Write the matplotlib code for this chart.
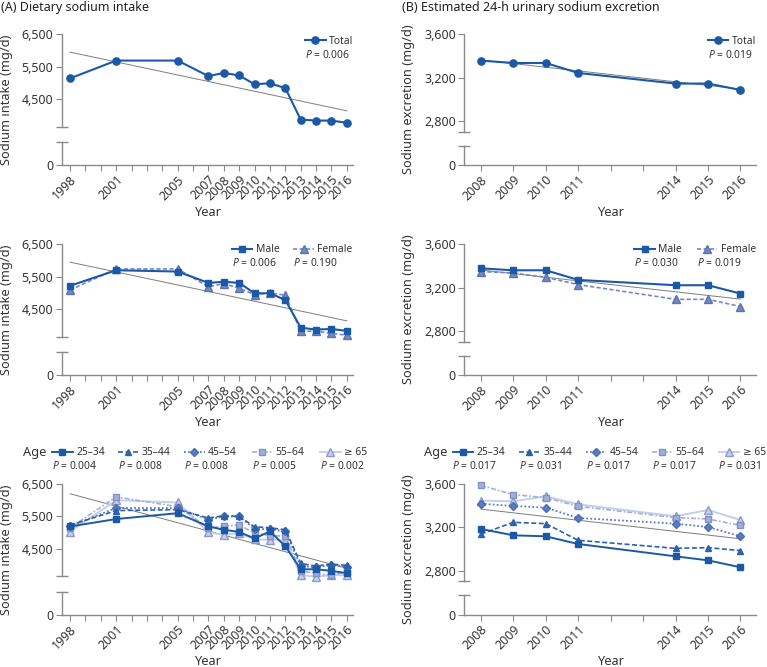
# Sodium intake (KNHANES) and estimated 24-h urinary sodium excretion trends

import matplotlib
matplotlib.use("Agg")
from matplotlib import pyplot as plt
from matplotlib.lines import Line2D
from matplotlib import transforms

plt.rcParams["font.family"] = ["Noto Sans", "DejaVu Sans"]
plt.rcParams["mathtext.fontset"] = "custom"
plt.rcParams["mathtext.it"] = "Noto Sans:italic"
plt.rcParams["mathtext.rm"] = "Noto Sans"

# ---- data ----
years_a = [1998, 2001, 2005, 2007, 2008, 2009, 2010, 2011, 2012, 2013, 2014, 2015, 2016]
years_b = [2008, 2009, 2010, 2011, 2014, 2015, 2016]

intake_total = [5140, 5690, 5690, 5210, 5310, 5230, 4960, 4990, 4840, 3870, 3840, 3840, 3770]
intake_male = [5220, 5700, 5660, 5310, 5345, 5310, 4990, 4990, 4780, 3930, 3870, 3890, 3830]
intake_female = [5090, 5740, 5740, 5190, 5290, 5140, 4950, 5000, 4930, 3820, 3820, 3750, 3700]
intake_25_34 = [5190, 5420, 5600, 5190, 5090, 5020, 4820, 5040, 4580, 3870, 3870, 3820, 3750]
intake_35_44 = [5230, 5680, 5710, 5450, 5520, 5500, 5180, 5150, 5090, 4050, 3970, 4030, 3990]
intake_45_54 = [5200, 5760, 5760, 5400, 5500, 5500, 5110, 5110, 5040, 3970, 3930, 4000, 3950]
intake_55_64 = [5150, 6100, 5800, 5150, 5190, 5240, 4990, 4910, 4890, 3810, 3750, 3680, 3800]
intake_65 = [5030, 6000, 5930, 5010, 4930, 4980, 4790, 4780, 4750, 3690, 3640, 3690, 3690]
intake_trend_total = [5950, 4140]
intake_trend_age = [6200, 3900]

excr_total = [3357, 3335, 3335, 3243, 3145, 3145, 3086]
excr_male = [3378, 3360, 3360, 3271, 3222, 3222, 3145]
excr_female = [3348, 3335, 3295, 3228, 3092, 3092, 3025]
excr_25_34 = [3185, 3126, 3117, 3046, 2932, 2895, 2831]
excr_35_44 = [3138, 3246, 3234, 3080, 3006, 3012, 2985]
excr_45_54 = [3418, 3397, 3382, 3286, 3234, 3203, 3117]
excr_55_64 = [3588, 3502, 3474, 3394, 3289, 3277, 3218]
excr_65 = [3446, 3440, 3486, 3412, 3302, 3360, 3268]
excr_trend_total = [3363, 3094]
excr_trend_age = [3368, 3094]

age_labels = ["25\u201334", "35\u201344", "45\u201354", "55\u201364", "\u2265 65"]
p_intake_total = ["0.006"]
p_intake_sex = ["0.006", "0.190"]
p_intake_age = ["0.004", "0.008", "0.008", "0.005", "0.002"]
p_excr_total = ["0.019"]
p_excr_sex = ["0.030", "0.019"]
p_excr_age = ["0.017", "0.031", "0.017", "0.017", "0.031"]

# ---- styles ----
DARK = "#1b59a7"
STYLE = {
    "total": dict(color=DARK, marker="o", ls="-", lw=1.5, ms=5.2, mec=DARK),
    "male": dict(color=DARK, marker="s", ls="-", lw=1.5, ms=4.6, mec=DARK),
    "female": dict(color="#7388c5", marker="^", ls=(0, (2.5, 1.4)), lw=1.2, ms=5.2, mec="#5e72b0"),
    "25": dict(color=DARK, marker="s", ls="-", lw=1.4, ms=4.4, mec=DARK),
    "35": dict(color="#2c62ad", marker="^", ls=(0, (3, 1.5)), lw=1.2, ms=5.0, mec="#2c62ad"),
    "45": dict(color="#5a7cc0", marker="D", ls=(0, (1, 1.2)), lw=1.3, ms=4.2, mec="#4c6db2"),
    "55": dict(color="#a0b0da", marker="s", ls=(0, (3, 1.2, 1, 1.2)), lw=1.2, ms=5.0, mec="#8292c4"),
    "65": dict(color="#c6cfea", marker="^", ls="-", lw=1.4, ms=5.6, mec="#8d9acb"),
}
age_keys = ["25", "35", "45", "55", "65"]

W, H = 767, 667
fig = plt.figure(figsize=(W / 100, H / 100), dpi=100)

SPINE = "#8a8a8a"
TXT = "#333333"
TICK_FS = 8.9
LABEL_FS = 9.2
LEG_FS = 7.4
PANEL_H = 130.7

# axis settings: (xlim, all years, ylim, y ticks, y labels, break marks)
AX_A = dict(xlim=(1997.46, 2016.4), years=years_a, allyears=range(1998, 2017),
            ylim=(2470, 6500), yt=[2470, 4500, 5500, 6500],
            yl=["0", "4,500", "5,500", "6,500"], brk=(3180, 3650),
            ylabel="Sodium intake (mg/d)")
AX_B = dict(xlim=(2007.49, 2016.48), years=years_b, allyears=range(2008, 2017),
            ylim=(2393, 3600), yt=[2393, 2800, 3200, 3600],
            yl=["0", "2,800", "3,200", "3,600"], brk=(2572, 2700),
            ylabel="Sodium excretion (mg/d)")


def make_axes(left, right, top, cfg):
    ax = fig.add_axes([left / W, 1 - (top + PANEL_H) / H, (right - left) / W, PANEL_H / H])
    ax.set_xlim(*cfg["xlim"])
    ax.set_ylim(*cfg["ylim"])
    for s in ["top", "right"]:
        ax.spines[s].set_visible(False)
    for s in ["left", "bottom"]:
        ax.spines[s].set_color(SPINE)
        ax.spines[s].set_linewidth(1.0)
    ax.spines["left"].set_bounds(cfg["brk"][1], cfg["ylim"][1])
    # lower piece of the broken y axis
    trans = transforms.blended_transform_factory(ax.transAxes, ax.transData)
    ax.plot([0, 0], [cfg["ylim"][0], cfg["brk"][0]], color=SPINE, lw=1.0,
            transform=trans, clip_on=False)
    ax.set_yticks(cfg["yt"])
    ax.set_yticklabels(cfg["yl"])
    ax.set_yticks(list(cfg["brk"]), minor=True)
    ax.tick_params(axis="y", which="major", direction="out", length=4, color=SPINE,
                   labelsize=TICK_FS, labelcolor=TXT, pad=2)
    ax.tick_params(axis="y", which="minor", direction="inout", length=8, color=SPINE, width=1.0)
    xt = list(cfg["allyears"])
    ax.set_xticks(xt)
    ax.set_xticklabels([str(y) if y in cfg["years"] else "" for y in xt])
    ax.tick_params(axis="x", direction="out", length=4, color=SPINE,
                   labelsize=TICK_FS, labelcolor=TXT, pad=2)
    for lab in ax.get_xticklabels():
        lab.set_rotation(45)
        lab.set_ha("right")
        lab.set_va("top")
        lab.set_rotation_mode("anchor")
    ax.set_xlabel("Year", fontsize=LABEL_FS, color=TXT)
    ax.xaxis.set_label_coords(0.5, -0.31)
    ax.set_ylabel(cfg["ylabel"], fontsize=LABEL_FS, color=TXT)
    ax.yaxis.set_label_coords(-0.168, 0.5)
    return ax


def add_entry(x, y, style, label, pval):
    h = Line2D([], [], **style)
    fig.legend(handles=[h], labels=[label], loc="center left",
               bbox_to_anchor=(x / W, 1 - y / H), frameon=False, borderpad=0,
               borderaxespad=0, handlelength=2.0, handletextpad=0.35,
               fontsize=LEG_FS, labelcolor=TXT)
    fig.text(x / W, 1 - (y + 13.5) / H, "$P$ = " + pval, fontsize=LEG_FS,
             color=TXT, va="center", ha="left")


def draw(ax, years, values, style, z):
    ax.plot(years, values, zorder=z, clip_on=False, **style)


def trend(ax, years, vals):
    ax.plot([years[0], years[-1]], vals, color="#7d7d7d", lw=0.7, zorder=2)


COL_A = (61.7, 353.0)
COL_B = (464.3, 756.0)
ROWS = [34.3, 244.3, 484.0]

fig.text(1 / W, 1 - 7.5 / H, "(A) Dietary sodium intake", fontsize=9, color="#222222", va="center")
fig.text(401.5 / W, 1 - 7.5 / H, "(B) Estimated 24-h urinary sodium excretion", fontsize=9,
         color="#222222", va="center")

# ---- row 1: totals ----
ax = make_axes(*COL_A, ROWS[0], AX_A)
trend(ax, years_a, intake_trend_total)
draw(ax, years_a, intake_total, STYLE["total"], 3)
add_entry(305, 41, STYLE["total"], "Total", p_intake_total[0])

ax = make_axes(*COL_B, ROWS[0], AX_B)
trend(ax, years_b, excr_trend_total)
draw(ax, years_b, excr_total, STYLE["total"], 3)
add_entry(707.7, 41, STYLE["total"], "Total", p_excr_total[0])

# ---- row 2: by sex ----
ax = make_axes(*COL_A, ROWS[1], AX_A)
trend(ax, years_a, intake_trend_total)
draw(ax, years_a, intake_female, STYLE["female"], 3)
draw(ax, years_a, intake_male, STYLE["male"], 4)
add_entry(231.7, 250, STYLE["male"], "Male", p_intake_sex[0])
add_entry(293.3, 250, STYLE["female"], "Female", p_intake_sex[1])

ax = make_axes(*COL_B, ROWS[1], AX_B)
trend(ax, years_b, excr_trend_total)
draw(ax, years_b, excr_female, STYLE["female"], 3)
draw(ax, years_b, excr_male, STYLE["male"], 4)
add_entry(634.3, 250, STYLE["male"], "Male", p_excr_sex[0])
add_entry(696.7, 250, STYLE["female"], "Female", p_excr_sex[1])

# ---- row 3: by age ----
intake_age = [intake_25_34, intake_35_44, intake_45_54, intake_55_64, intake_65]
excr_age = [excr_25_34, excr_35_44, excr_45_54, excr_55_64, excr_65]
age_x_a = [52, 117.5, 184, 251.5, 320]
age_x_b = [452.5, 519, 585.5, 651.5, 718.5]

ax = make_axes(*COL_A, ROWS[2], AX_A)
trend(ax, years_a, intake_trend_age)
for i in reversed(range(5)):
    draw(ax, years_a, intake_age[i], STYLE[age_keys[i]], 3 + (5 - i))
fig.text(23 / W, 1 - 452.7 / H, "Age", fontsize=LABEL_FS, color=TXT, va="center")
for i in range(5):
    add_entry(age_x_a[i], 452.7, STYLE[age_keys[i]], age_labels[i], p_intake_age[i])

ax = make_axes(*COL_B, ROWS[2], AX_B)
trend(ax, years_b, excr_trend_age)
for i in reversed(range(5)):
    draw(ax, years_b, excr_age[i], STYLE[age_keys[i]], 3 + (5 - i))
fig.text(424 / W, 1 - 452.7 / H, "Age", fontsize=LABEL_FS, color=TXT, va="center")
for i in range(5):
    add_entry(age_x_b[i], 452.7, STYLE[age_keys[i]], age_labels[i], p_excr_age[i])

fig.savefig("out.png", dpi=100)
